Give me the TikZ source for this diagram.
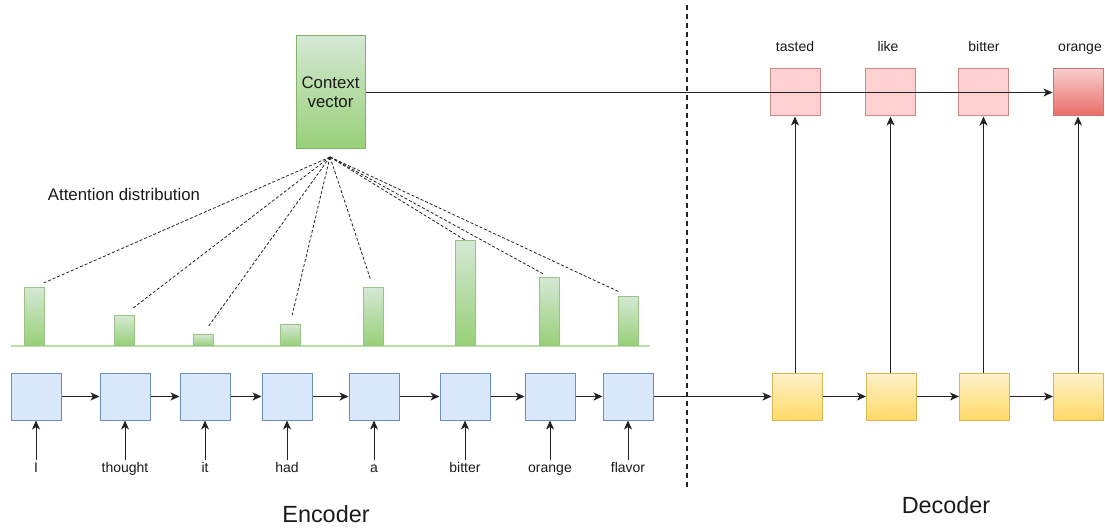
\documentclass[tikz,border=0pt]{standalone}
\usepackage{fontspec}
\setmainfont{Liberation Sans}
\usetikzlibrary{arrows.meta}

\definecolor{encfill}{HTML}{DAE8FC}
\definecolor{encline}{HTML}{6C8EBF}
\definecolor{gtop}{HTML}{D5E8D4}
\definecolor{gbot}{HTML}{97D077}
\definecolor{gline}{HTML}{82B366}
\definecolor{basegreen}{HTML}{B9E0A5}
\definecolor{ytop}{HTML}{FFF2CC}
\definecolor{ybot}{HTML}{FFD966}
\definecolor{yline}{HTML}{D6B656}
\definecolor{pfill}{HTML}{FFD0D0}
\definecolor{pline}{HTML}{B85450}
\definecolor{rtop}{HTML}{F8CECC}
\definecolor{rbot}{HTML}{EA6B66}
\definecolor{txt}{HTML}{1A1A1A}
\definecolor{wire}{HTML}{222222}

\begin{document}
\begin{tikzpicture}[x=1pt, y=-1pt, line width=1pt,
  >={Stealth[length=9pt, width=8pt, inset=2.5pt]},
  every node/.style={text=txt, inner sep=0pt},
  cell/.style={minimum width=50pt, minimum height=47pt},
  enc/.style={cell, draw=encline, fill=encfill},
  dec/.style={cell, draw=yline, top color=ytop, bottom color=ybot},
  outcell/.style={cell, draw=pline!70, fill=pfill},
  bar/.style={draw=gline!80, top color=gtop, bottom color=gbot, minimum width=20pt, anchor=south},
  word/.style={font=\fontsize{14}{16}\selectfont, text height=10pt, text depth=3pt, inner sep=2pt},
  link/.style={->, draw=wire},
  attn/.style={dashed, dash pattern=on 3pt off 2pt, line width=0.8pt, draw=wire}]
  \useasboundingbox (0,0) rectangle (1105,529);

  % context vector
  \node[draw=gline, top color=gtop, bottom color=gbot, minimum width=69pt, minimum height=113pt,
        align=center, font=\fontsize{16.8}{19}\selectfont] (ctx) at (330.5,92.5) {Context\\vector};
  \node[font=\fontsize{16.8}{19}\selectfont] (attlabel) at (124,194) {Attention distribution};

  % attention bars
  \draw[basegreen, line width=1.5pt] (11,346) coordinate (base1) -- (650,346) coordinate (base2);
  \node[bar, minimum height=58pt] (b1) at (34.5,346) {};
  \node[bar, minimum height=30pt] (b2) at (124,346) {};
  \node[bar, minimum height=11pt] (b3) at (203,346) {};
  \node[bar, minimum height=21pt] (b4) at (290,346) {};
  \node[bar, minimum height=58pt] (b5) at (373,346) {};
  \node[bar, minimum height=105pt] (b6) at (465,346) {};
  \node[bar, minimum height=68pt] (b7) at (549,346) {};
  \node[bar, minimum height=49pt] (b8) at (628,346) {};

  \coordinate (att) at (330,157);
  \draw[attn, shorten >=10pt] (att) -- (b1.north);
  \draw[attn, shorten >=10pt] (att) -- (b2.north);
  \draw[attn, shorten >=9pt] (att) -- (b3.north);
  \draw[attn, shorten >=9pt] (att) -- (b4.north);
  \draw[attn, shorten >=9pt] (att) -- (b5.north);
  \draw[attn] (att) -- (b6.north);
  \draw[attn, shorten >=7pt] (att) -- (b7.north);
  \draw[attn, shorten >=9pt] (att) -- (b8.north);

  % encoder
  \node[enc] (e1) at (36,396.5) {};
  \node[enc] (e2) at (125,396.5) {};
  \node[enc] (e3) at (205,396.5) {};
  \node[enc] (e4) at (287,396.5) {};
  \node[enc] (e5) at (374,396.5) {};
  \node[enc] (e6) at (465,396.5) {};
  \node[enc] (e7) at (550,396.5) {};
  \node[enc] (e8) at (628,396.5) {};

  \node[word] (w1) at (36,469) {I};
  \node[word] (w2) at (125,469) {thought};
  \node[word] (w3) at (205,469) {it};
  \node[word] (w4) at (287,469) {had};
  \node[word] (w5) at (374,469) {a};
  \node[word] (w6) at (465,469) {bitter};
  \node[word] (w7) at (550,469) {orange};
  \node[word] (w8) at (628,469) {flavor};

  \draw[link] (w1.north) -- (e1.south);
  \draw[link] (w2.north) -- (e2.south);
  \draw[link] (w3.north) -- (e3.south);
  \draw[link] (w4.north) -- (e4.south);
  \draw[link] (w5.north) -- (e5.south);
  \draw[link] (w6.north) -- (e6.south);
  \draw[link] (w7.north) -- (e7.south);
  \draw[link] (w8.north) -- (e8.south);

  \draw[link] (e1) -- (e2);
  \draw[link] (e2) -- (e3);
  \draw[link] (e3) -- (e4);
  \draw[link] (e4) -- (e5);
  \draw[link] (e5) -- (e6);
  \draw[link] (e6) -- (e7);
  \draw[link] (e7) -- (e8);

  % decoder
  \node[dec] (d1) at (797,396.5) {};
  \node[dec] (d2) at (891.5,396.5) {};
  \node[dec] (d3) at (984.5,396.5) {};
  \node[dec] (d4) at (1078.5,396.5) {};

  \node[outcell] (o1) at (795,92.5) {};
  \node[outcell] (o2) at (890.5,92.5) {};
  \node[outcell] (o3) at (983.5,92.5) {};
  \node[cell, draw=pline!80, top color=rtop, bottom color=rbot] (o4) at (1078,92.5) {};

  \node[word] (t1) at (795,48) {tasted};
  \node[word] (t2) at (888,48) {like};
  \node[word] (t3) at (984,48) {bitter};
  \node[word] (t4) at (1080,48) {orange};

  \draw[link] (e8) -- (d1);
  \draw[link] (d1) -- (d2);
  \draw[link] (d2) -- (d3);
  \draw[link] (d3) -- (d4);

  \draw[link] (d1.north -| o1) -- (o1.south);
  \draw[link] (d2.north -| o2) -- (o2.south);
  \draw[link] (d3.north -| o3) -- (o3.south);
  \draw[link] (d4.north -| o4) -- (o4.south);

  \draw[link] (ctx) -- (o4);

  % split
  \draw[wire, line width=1.6pt, dash pattern=on 5pt off 4pt] (687,5) coordinate (split1) -- (687,487) coordinate (split2);

  \node[font=\fontsize{23.4}{26}\selectfont] (encname) at (326,514) {Encoder};
  \node[font=\fontsize{23.4}{26}\selectfont] (decname) at (946,505) {Decoder};
\end{tikzpicture}
\end{document}
